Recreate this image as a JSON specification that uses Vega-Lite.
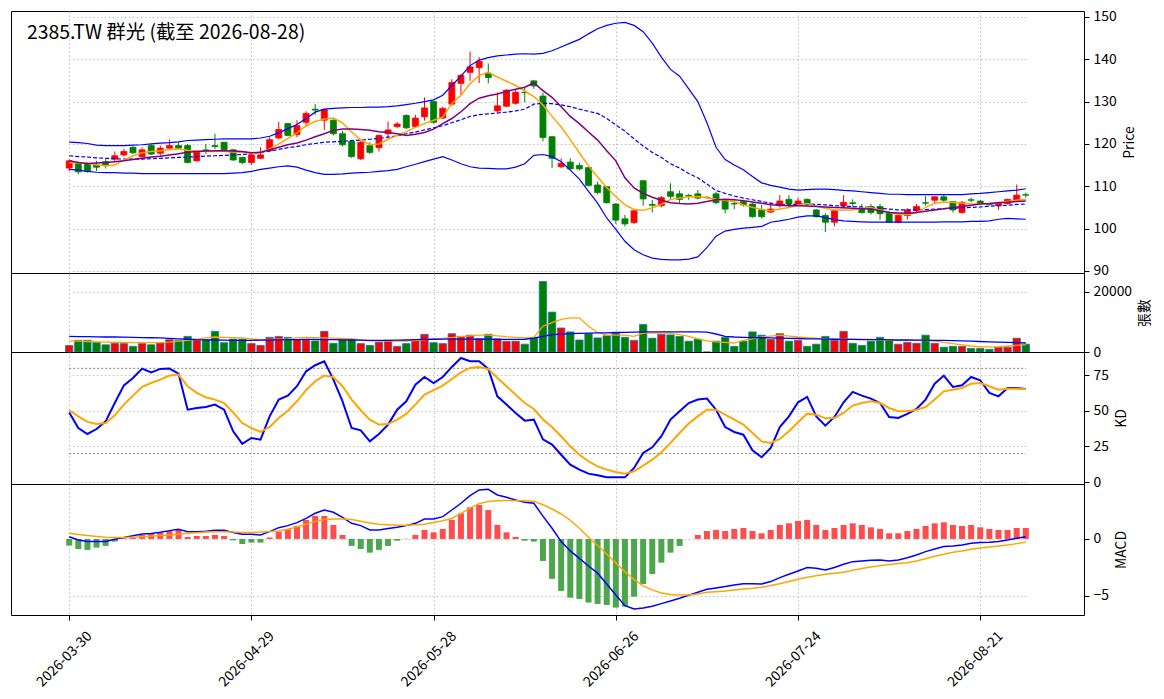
{
  "$schema": "https://vega.github.io/schema/vega-lite/v6.json",
  "padding": {"left": 10, "top": 9, "right": 2, "bottom": 2},
  "background": "white",
  "spacing": 0,
  "bounds": "flush",
  "data": {"values": [
{"d":"2026-03-30","o":114.3,"h":116.4,"l":113.6,"c":116.0,"v":2200,"ma5":115.6,"ma10":116,"mid":117.2,"up":120.4,"lo":114,"vma5":3700,"vma20":5200,"K":49,"D":50.5,"dif":0.2,"dea":0.5,"hist":-0.58},
{"d":"2026-03-31","o":115.4,"h":115.8,"l":112.8,"c":113.4,"v":3900,"ma5":115.5,"ma10":115.6,"mid":117,"up":120.3,"lo":113.8,"vma5":3600,"vma20":5150,"K":38,"D":46.2,"dif":-0.09,"dea":0.4,"hist":-0.88},
{"d":"2026-04-01","o":115.2,"h":115.6,"l":113.2,"c":113.6,"v":3900,"ma5":115.4,"ma10":115.4,"mid":116.9,"up":120.1,"lo":113.5,"vma5":3500,"vma20":5100,"K":33.8,"D":42.3,"dif":-0.23,"dea":0.3,"hist":-0.96},
{"d":"2026-04-02","o":115.0,"h":116.0,"l":113.6,"c":114.5,"v":3200,"ma5":115.1,"ma10":115.5,"mid":116.7,"up":119.7,"lo":113.3,"vma5":3400,"vma20":5050,"K":37.3,"D":40.8,"dif":-0.23,"dea":0.22,"hist":-0.76},
{"d":"2026-04-07","o":115.8,"h":116.4,"l":114.2,"c":115.0,"v":2400,"ma5":114.8,"ma10":115.6,"mid":116.6,"up":119.6,"lo":113.2,"vma5":3300,"vma20":5000,"K":42.7,"D":41.5,"dif":-0.23,"dea":0.15,"hist":-0.61},
{"d":"2026-04-08","o":116.4,"h":118.2,"l":115.8,"c":117.2,"v":2900,"ma5":115,"ma10":115.8,"mid":116.5,"up":119.6,"lo":113.2,"vma5":3250,"vma20":5000,"K":55.6,"D":46.9,"dif":-0.03,"dea":0.12,"hist":-0.23},
{"d":"2026-04-09","o":117.4,"h":118.8,"l":117.0,"c":118.2,"v":2800,"ma5":116.2,"ma10":116,"mid":116.4,"up":119.6,"lo":113.1,"vma5":3200,"vma20":4950,"K":68,"D":54.5,"dif":0.12,"dea":0.13,"hist":0.06},
{"d":"2026-04-10","o":119.2,"h":119.4,"l":117.6,"c":117.9,"v":1900,"ma5":117.2,"ma10":116.3,"mid":116.4,"up":119.7,"lo":113.1,"vma5":3150,"vma20":4900,"K":73.2,"D":60.8,"dif":0.29,"dea":0.16,"hist":0.1},
{"d":"2026-04-13","o":117.0,"h":119.2,"l":116.4,"c":118.6,"v":2800,"ma5":117.9,"ma10":116.6,"mid":116.4,"up":119.8,"lo":113,"vma5":3100,"vma20":4800,"K":79.8,"D":66.9,"dif":0.44,"dea":0.2,"hist":0.35},
{"d":"2026-04-14","o":119.6,"h":120.0,"l":117.4,"c":117.6,"v":2400,"ma5":118.2,"ma10":116.9,"mid":116.5,"up":120,"lo":113,"vma5":3100,"vma20":4750,"K":77.2,"D":69.7,"dif":0.47,"dea":0.25,"hist":0.44},
{"d":"2026-04-15","o":117.8,"h":119.6,"l":117.2,"c":119.0,"v":3000,"ma5":118.4,"ma10":117.1,"mid":116.6,"up":120.2,"lo":113,"vma5":3100,"vma20":4700,"K":79.6,"D":72.1,"dif":0.58,"dea":0.3,"hist":0.56},
{"d":"2026-04-16","o":119.0,"h":121.0,"l":118.6,"c":119.6,"v":4100,"ma5":118.7,"ma10":117.4,"mid":116.7,"up":120.3,"lo":113,"vma5":3300,"vma20":4550,"K":79.8,"D":74.9,"dif":0.73,"dea":0.35,"hist":0.7},
{"d":"2026-04-17","o":119.6,"h":120.4,"l":118.8,"c":119.0,"v":3900,"ma5":118.8,"ma10":117.7,"mid":116.8,"up":120.5,"lo":113,"vma5":3600,"vma20":4400,"K":76.3,"D":75.6,"dif":0.85,"dea":0.42,"hist":0.79},
{"d":"2026-04-20","o":119.6,"h":120.0,"l":115.4,"c":115.6,"v":5200,"ma5":118.5,"ma10":118,"mid":116.9,"up":120.8,"lo":113,"vma5":3900,"vma20":4250,"K":50.9,"D":67.4,"dif":0.64,"dea":0.5,"hist":0.18},
{"d":"2026-04-21","o":116.0,"h":118.2,"l":115.8,"c":118.0,"v":3900,"ma5":118.3,"ma10":118.2,"mid":117,"up":120.9,"lo":113,"vma5":4300,"vma20":4100,"K":52.1,"D":62.7,"dif":0.64,"dea":0.55,"hist":0.26},
{"d":"2026-04-22","o":118.6,"h":120.0,"l":117.6,"c":118.4,"v":4100,"ma5":118.2,"ma10":118.3,"mid":117.1,"up":121,"lo":113,"vma5":4700,"vma20":4050,"K":52.8,"D":59.6,"dif":0.67,"dea":0.6,"hist":0.26},
{"d":"2026-04-23","o":119.6,"h":122.4,"l":118.8,"c":119.4,"v":6900,"ma5":118.2,"ma10":118.4,"mid":117.2,"up":121.1,"lo":113,"vma5":5000,"vma20":4000,"K":54.5,"D":58,"dif":0.76,"dea":0.63,"hist":0.35},
{"d":"2026-04-24","o":120.4,"h":120.4,"l":118.4,"c":118.6,"v":3100,"ma5":118.2,"ma10":118.4,"mid":117.3,"up":121.2,"lo":113,"vma5":4900,"vma20":3950,"K":50.9,"D":55.6,"dif":0.76,"dea":0.64,"hist":0.26},
{"d":"2026-04-27","o":118.6,"h":118.8,"l":116.0,"c":116.2,"v":4300,"ma5":118.1,"ma10":118.3,"mid":117.4,"up":121.2,"lo":113.1,"vma5":4800,"vma20":3900,"K":35.7,"D":49,"dif":0.56,"dea":0.6,"hist":-0.12},
{"d":"2026-04-28","o":116.8,"h":117.0,"l":115.2,"c":115.6,"v":4300,"ma5":118,"ma10":118.2,"mid":117.5,"up":121.2,"lo":113.2,"vma5":4700,"vma20":3900,"K":26.8,"D":41.5,"dif":0.41,"dea":0.57,"hist":-0.44},
{"d":"2026-04-29","o":115.6,"h":117.6,"l":115.0,"c":117.4,"v":2800,"ma5":117.8,"ma10":117.9,"mid":117.7,"up":121.2,"lo":113.5,"vma5":4400,"vma20":3900,"K":31,"D":38,"dif":0.41,"dea":0.56,"hist":-0.32},
{"d":"2026-04-30","o":116.6,"h":119.2,"l":116.4,"c":117.4,"v":2200,"ma5":118,"ma10":118,"mid":118,"up":121.4,"lo":114,"vma5":4100,"vma20":3950,"K":29.8,"D":35.2,"dif":0.35,"dea":0.6,"hist":-0.32},
{"d":"2026-05-04","o":118.4,"h":121.6,"l":118.2,"c":121.0,"v":4900,"ma5":118.8,"ma10":118.6,"mid":118.3,"up":121.8,"lo":114.3,"vma5":4200,"vma20":4000,"K":46.2,"D":38.7,"dif":0.64,"dea":0.66,"hist":0.12},
{"d":"2026-05-05","o":121.4,"h":125.2,"l":121.0,"c":123.4,"v":5200,"ma5":120,"ma10":119.2,"mid":118.7,"up":122.6,"lo":114.6,"vma5":4300,"vma20":4050,"K":58,"D":45.1,"dif":0.99,"dea":0.7,"hist":0.64},
{"d":"2026-05-06","o":124.8,"h":125.0,"l":121.8,"c":122.0,"v":4900,"ma5":121.3,"ma10":119.8,"mid":119.1,"up":123.6,"lo":114.8,"vma5":4400,"vma20":4100,"K":60.8,"D":50.2,"dif":1.17,"dea":0.85,"hist":0.88},
{"d":"2026-05-07","o":122.2,"h":125.6,"l":121.6,"c":124.3,"v":4100,"ma5":122.6,"ma10":120.2,"mid":119.4,"up":124.6,"lo":114.5,"vma5":4700,"vma20":4150,"K":67.4,"D":56.8,"dif":1.43,"dea":1.05,"hist":1.14},
{"d":"2026-05-08","o":125.1,"h":127.7,"l":124.1,"c":127.2,"v":4100,"ma5":124.3,"ma10":120.9,"mid":119.8,"up":126,"lo":113.8,"vma5":4900,"vma20":4200,"K":77.9,"D":64.6,"dif":1.81,"dea":1.3,"hist":1.67},
{"d":"2026-05-11","o":128.2,"h":129.4,"l":126.9,"c":128.0,"v":3700,"ma5":125.3,"ma10":121.7,"mid":120.1,"up":127.5,"lo":113.2,"vma5":4800,"vma20":4200,"K":82.2,"D":70.9,"dif":2.25,"dea":1.55,"hist":2.02},
{"d":"2026-05-12","o":125.6,"h":128.4,"l":123.3,"c":128.1,"v":6900,"ma5":125.9,"ma10":122.4,"mid":120.4,"up":128.2,"lo":112.8,"vma5":4700,"vma20":4150,"K":85,"D":74.9,"dif":2.54,"dea":1.7,"hist":2.02},
{"d":"2026-05-13","o":125.6,"h":125.8,"l":122.0,"c":122.4,"v":2900,"ma5":126.1,"ma10":123.2,"mid":120.5,"up":128.4,"lo":112.8,"vma5":4600,"vma20":4100,"K":72.1,"D":73.7,"dif":2.34,"dea":1.75,"hist":1.23},
{"d":"2026-05-14","o":122.4,"h":123.1,"l":119.4,"c":119.8,"v":4100,"ma5":125,"ma10":123.5,"mid":120.6,"up":128.5,"lo":112.9,"vma5":4500,"vma20":4050,"K":56.8,"D":67.4,"dif":1.9,"dea":1.75,"hist":0.35},
{"d":"2026-05-15","o":120.6,"h":120.8,"l":116.7,"c":117.0,"v":4300,"ma5":122.8,"ma10":123.5,"mid":120.8,"up":128.6,"lo":113.1,"vma5":4400,"vma20":4000,"K":38,"D":58,"dif":1.37,"dea":1.7,"hist":-0.61},
{"d":"2026-05-18","o":116.5,"h":120.8,"l":116.2,"c":120.4,"v":2800,"ma5":121,"ma10":123.4,"mid":120.9,"up":128.6,"lo":113.2,"vma5":4000,"vma20":3950,"K":36.4,"D":50.5,"dif":1.17,"dea":1.55,"hist":-0.88},
{"d":"2026-05-19","o":119.6,"h":120.4,"l":117.6,"c":118.0,"v":2200,"ma5":119.8,"ma10":123.2,"mid":121.1,"up":128.7,"lo":113.3,"vma5":3700,"vma20":3900,"K":28.6,"D":43.9,"dif":0.79,"dea":1.4,"hist":-1.2},
{"d":"2026-05-20","o":119.1,"h":122.2,"l":118.2,"c":122.0,"v":3300,"ma5":120,"ma10":122.9,"mid":121.3,"up":128.7,"lo":113.5,"vma5":3650,"vma20":3900,"K":33.8,"D":40.4,"dif":0.79,"dea":1.3,"hist":-0.96},
{"d":"2026-05-21","o":122.4,"h":125.3,"l":121.4,"c":123.3,"v":3900,"ma5":121.1,"ma10":122.7,"mid":121.6,"up":128.8,"lo":113.7,"vma5":3600,"vma20":3900,"K":40.4,"D":40.8,"dif":0.91,"dea":1.25,"hist":-0.61},
{"d":"2026-05-22","o":124.1,"h":125.2,"l":123.8,"c":124.7,"v":1900,"ma5":122,"ma10":122.4,"mid":121.9,"up":129,"lo":114,"vma5":3600,"vma20":3950,"K":50.9,"D":43.9,"dif":1.02,"dea":1.2,"hist":-0.15},
{"d":"2026-05-25","o":126.7,"h":127.0,"l":123.5,"c":123.8,"v":2800,"ma5":122.9,"ma10":122,"mid":122.4,"up":129.3,"lo":114.6,"vma5":3600,"vma20":4000,"K":56.8,"D":47.9,"dif":1.17,"dea":1.2,"hist":0.02},
{"d":"2026-05-26","o":124.1,"h":126.9,"l":123.8,"c":126.1,"v":3900,"ma5":123.9,"ma10":122.3,"mid":122.8,"up":129.6,"lo":115.2,"vma5":3800,"vma20":4100,"K":68.5,"D":54.5,"dif":1.37,"dea":1.25,"hist":0.35},
{"d":"2026-05-27","o":126.4,"h":131.0,"l":125.5,"c":128.5,"v":5900,"ma5":124.8,"ma10":122.7,"mid":123.3,"up":130,"lo":115.8,"vma5":4100,"vma20":4200,"K":73.9,"D":61.5,"dif":1.75,"dea":1.3,"hist":0.79},
{"d":"2026-05-28","o":130.0,"h":130.2,"l":124.8,"c":125.1,"v":3100,"ma5":125.6,"ma10":123.5,"mid":123.8,"up":130.4,"lo":116.4,"vma5":4300,"vma20":4250,"K":69.7,"D":64.6,"dif":1.75,"dea":1.45,"hist":0.58},
{"d":"2026-05-29","o":126.1,"h":128.8,"l":125.9,"c":128.4,"v":2800,"ma5":126.3,"ma10":124.8,"mid":124.3,"up":131.5,"lo":117,"vma5":4500,"vma20":4300,"K":73.9,"D":67.8,"dif":1.96,"dea":1.6,"hist":0.88},
{"d":"2026-06-01","o":129.4,"h":135.3,"l":129.0,"c":134.5,"v":6100,"ma5":129.5,"ma10":126,"mid":125,"up":133.8,"lo":116.2,"vma5":4800,"vma20":4300,"K":81,"D":72.5,"dif":2.54,"dea":1.8,"hist":1.67},
{"d":"2026-06-02","o":134.3,"h":136.5,"l":131.6,"c":136.2,"v":5200,"ma5":131.5,"ma10":127.6,"mid":125.7,"up":136,"lo":115.3,"vma5":5100,"vma20":4300,"K":87.3,"D":77.2,"dif":3.13,"dea":2.25,"hist":2.25},
{"d":"2026-06-03","o":136.9,"h":141.8,"l":134.9,"c":138.2,"v":5600,"ma5":134.2,"ma10":129.5,"mid":126.5,"up":138.5,"lo":114.6,"vma5":5400,"vma20":4300,"K":85,"D":80.3,"dif":3.8,"dea":2.7,"hist":2.78},
{"d":"2026-06-04","o":138.0,"h":140.5,"l":134.4,"c":139.5,"v":4400,"ma5":136.2,"ma10":130.8,"mid":126.9,"up":139.8,"lo":114.3,"vma5":5600,"vma20":4250,"K":85,"D":81,"dif":4.3,"dea":3.1,"hist":2.98},
{"d":"2026-06-05","o":136.7,"h":139.0,"l":134.3,"c":135.7,"v":5900,"ma5":136.9,"ma10":131.4,"mid":127.1,"up":140.4,"lo":114.2,"vma5":5600,"vma20":4250,"K":79.6,"D":79.6,"dif":4.36,"dea":3.28,"hist":2.54},
{"d":"2026-06-08","o":127.8,"h":132.2,"l":127.2,"c":129.0,"v":4400,"ma5":135.8,"ma10":131.8,"mid":127.3,"up":140.8,"lo":114.1,"vma5":5400,"vma20":4200,"K":60.3,"D":73.2,"dif":3.86,"dea":3.35,"hist":1.23},
{"d":"2026-06-09","o":128.9,"h":132.9,"l":128.7,"c":132.7,"v":3600,"ma5":134.8,"ma10":132.4,"mid":127.5,"up":141,"lo":114.1,"vma5":5100,"vma20":4200,"K":54.5,"D":67.4,"dif":3.65,"dea":3.37,"hist":0.58},
{"d":"2026-06-10","o":129.6,"h":132.9,"l":129.3,"c":132.2,"v":3600,"ma5":133.8,"ma10":132.9,"mid":127.8,"up":141.2,"lo":114.5,"vma5":4900,"vma20":4200,"K":48.6,"D":61.5,"dif":3.42,"dea":3.36,"hist":0.18},
{"d":"2026-06-11","o":132.2,"h":133.3,"l":129.8,"c":132.1,"v":2600,"ma5":132.5,"ma10":133.4,"mid":128.2,"up":141.3,"lo":115.3,"vma5":4700,"vma20":4250,"K":43.2,"D":55.6,"dif":3.22,"dea":3.35,"hist":-0.15},
{"d":"2026-06-12","o":134.9,"h":135.0,"l":133.0,"c":133.7,"v":4900,"ma5":131.2,"ma10":134.4,"mid":129.4,"up":141.2,"lo":117.3,"vma5":4900,"vma20":4600,"K":43.9,"D":51.4,"dif":3.13,"dea":3.3,"hist":-0.23},
{"d":"2026-06-15","o":131.3,"h":132.1,"l":120.6,"c":121.5,"v":23500,"ma5":129.2,"ma10":132.6,"mid":129.6,"up":141.4,"lo":117.5,"vma5":8600,"vma20":5200,"K":30,"D":44,"dif":2.0,"dea":3.0,"hist":-1.93},
{"d":"2026-06-16","o":121.7,"h":121.9,"l":114.3,"c":116.6,"v":13300,"ma5":126.5,"ma10":131,"mid":129.5,"up":142,"lo":117,"vma5":9800,"vma20":5800,"K":26.3,"D":38.7,"dif":0.94,"dea":2.63,"hist":-3.5},
{"d":"2026-06-17","o":114.6,"h":116.6,"l":114.3,"c":115.4,"v":8000,"ma5":124,"ma10":128.8,"mid":129.2,"up":142.9,"lo":115.8,"vma5":10900,"vma20":5950,"K":19.2,"D":32.2,"dif":-0.23,"dea":2.19,"hist":-4.56},
{"d":"2026-06-18","o":115.7,"h":116.6,"l":113.9,"c":114.1,"v":6700,"ma5":121,"ma10":126.5,"mid":128.8,"up":143.8,"lo":113.8,"vma5":11400,"vma20":6100,"K":12.2,"D":25.1,"dif":-1.05,"dea":1.64,"hist":-5.15},
{"d":"2026-06-22","o":114.9,"h":115.6,"l":113.7,"c":114.1,"v":4000,"ma5":117.9,"ma10":124.8,"mid":128.2,"up":144.7,"lo":111.7,"vma5":11400,"vma20":6200,"K":8.7,"D":19.2,"dif":-1.7,"dea":0.94,"hist":-5.26},
{"d":"2026-06-23","o":114.4,"h":114.6,"l":110.0,"c":110.2,"v":6100,"ma5":114.8,"ma10":122.8,"mid":127.7,"up":146,"lo":108.8,"vma5":8600,"vma20":6300,"K":5.9,"D":14.6,"dif":-2.37,"dea":0.15,"hist":-5.58},
{"d":"2026-06-24","o":110.3,"h":111.1,"l":108.1,"c":108.5,"v":4700,"ma5":112.2,"ma10":120.9,"mid":127.2,"up":147.2,"lo":106,"vma5":6500,"vma20":6350,"K":4.7,"D":11,"dif":-3.0,"dea":-0.58,"hist":-5.7},
{"d":"2026-06-25","o":109.9,"h":110.1,"l":105.9,"c":106.1,"v":5400,"ma5":109.7,"ma10":118.4,"mid":126,"up":148,"lo":102.5,"vma5":5600,"vma20":6400,"K":3.3,"D":8.7,"dif":-3.95,"dea":-1.32,"hist":-5.79},
{"d":"2026-06-26","o":105.8,"h":106.0,"l":101.1,"c":102.0,"v":6300,"ma5":107.5,"ma10":116,"mid":124.5,"up":148.5,"lo":99.8,"vma5":5600,"vma20":6500,"K":3.3,"D":7,"dif":-4.91,"dea":-2.1,"hist":-6.02},
{"d":"2026-06-29","o":102.3,"h":103.2,"l":100.5,"c":101.1,"v":4900,"ma5":105.6,"ma10":112,"mid":123,"up":148.7,"lo":97,"vma5":5600,"vma20":6550,"K":3.3,"D":5.9,"dif":-5.85,"dea":-2.87,"hist":-5.94},
{"d":"2026-06-30","o":101.4,"h":104.4,"l":101.1,"c":104.2,"v":3900,"ma5":104.5,"ma10":109.6,"mid":121.2,"up":148,"lo":95,"vma5":5200,"vma20":6650,"K":9.9,"D":7.5,"dif":-6.14,"dea":-3.54,"hist":-5.06},
{"d":"2026-07-01","o":111.3,"h":111.3,"l":105.4,"c":107.0,"v":9200,"ma5":104.3,"ma10":108.3,"mid":119.5,"up":146.5,"lo":93.8,"vma5":6300,"vma20":6700,"K":20.4,"D":11.5,"dif":-6.05,"dea":-4.12,"hist":-3.95},
{"d":"2026-07-02","o":105.7,"h":106.8,"l":103.8,"c":105.5,"v":4600,"ma5":104.9,"ma10":107.4,"mid":118,"up":143.8,"lo":93,"vma5":6300,"vma20":6700,"K":24.4,"D":15.7,"dif":-5.9,"dea":-4.47,"hist":-3.07},
{"d":"2026-07-03","o":105.4,"h":107.7,"l":105.0,"c":107.3,"v":5900,"ma5":105.7,"ma10":106.7,"mid":116.8,"up":140.5,"lo":92.7,"vma5":6300,"vma20":6700,"K":32.2,"D":20.9,"dif":-5.67,"dea":-4.74,"hist":-2.08},
{"d":"2026-07-06","o":108.7,"h":110.7,"l":106.8,"c":107.6,"v":5700,"ma5":106.9,"ma10":106.1,"mid":115.3,"up":137.6,"lo":92.6,"vma5":6300,"vma20":6700,"K":43.9,"D":27.5,"dif":-5.44,"dea":-4.88,"hist":-1.2},
{"d":"2026-07-07","o":108.2,"h":109.0,"l":106.0,"c":106.9,"v":5200,"ma5":107.2,"ma10":105.9,"mid":114.3,"up":136,"lo":92.6,"vma5":5800,"vma20":6700,"K":49.8,"D":34.5,"dif":-5.2,"dea":-4.91,"hist":-0.61},
{"d":"2026-07-08","o":107.8,"h":108.2,"l":106.8,"c":107.7,"v":3600,"ma5":107.5,"ma10":105.8,"mid":113,"up":133,"lo":92.8,"vma5":5200,"vma20":6700,"K":55.6,"D":41.1,"dif":-4.94,"dea":-4.91,"hist":0},
{"d":"2026-07-09","o":108.2,"h":109.1,"l":106.9,"c":107.2,"v":4300,"ma5":107.6,"ma10":106,"mid":112,"up":130,"lo":93.3,"vma5":4400,"vma20":6700,"K":58,"D":46.2,"dif":-4.68,"dea":-4.82,"hist":0.35},
{"d":"2026-07-10","o":107.4,"h":107.6,"l":107.1,"c":107.3,"v":0,"ma5":107.3,"ma10":106.4,"mid":110.5,"up":125,"lo":95.5,"vma5":3700,"vma20":6600,"K":58.7,"D":50.9,"dif":-4.42,"dea":-4.68,"hist":0.7},
{"d":"2026-07-13","o":108.2,"h":108.7,"l":105.8,"c":106.1,"v":3600,"ma5":106.9,"ma10":106.8,"mid":109,"up":119.2,"lo":98.2,"vma5":3400,"vma20":6000,"K":50.9,"D":50.9,"dif":-4.3,"dea":-4.62,"hist":0.79},
{"d":"2026-07-14","o":106.6,"h":106.8,"l":103.6,"c":104.6,"v":4900,"ma5":106.6,"ma10":106.9,"mid":108.3,"up":116.3,"lo":99.4,"vma5":3200,"vma20":5200,"K":38.7,"D":47.4,"dif":-4.18,"dea":-4.56,"hist":0.7},
{"d":"2026-07-15","o":105.9,"h":106.6,"l":104.6,"c":105.8,"v":1900,"ma5":106.4,"ma10":106.8,"mid":107.7,"up":115,"lo":99.8,"vma5":3000,"vma20":5000,"K":35.2,"D":43.9,"dif":-4.04,"dea":-4.47,"hist":0.88},
{"d":"2026-07-16","o":106.4,"h":106.8,"l":105.2,"c":105.6,"v":3600,"ma5":105.6,"ma10":106.6,"mid":107.2,"up":113.9,"lo":100.1,"vma5":3900,"vma20":4900,"K":33.3,"D":40.4,"dif":-3.92,"dea":-4.39,"hist":0.96},
{"d":"2026-07-17","o":105.8,"h":106.0,"l":102.6,"c":102.8,"v":6700,"ma5":105,"ma10":106.3,"mid":106.8,"up":112.3,"lo":100.3,"vma5":4400,"vma20":4800,"K":22.3,"D":34.5,"dif":-3.92,"dea":-4.33,"hist":0.7},
{"d":"2026-07-20","o":104.4,"h":105.6,"l":102.4,"c":102.8,"v":5600,"ma5":104.5,"ma10":106,"mid":106.4,"up":110.8,"lo":100.5,"vma5":5000,"vma20":4750,"K":17.4,"D":28.6,"dif":-3.95,"dea":-4.24,"hist":0.5},
{"d":"2026-07-21","o":103.9,"h":106.1,"l":103.6,"c":104.6,"v":4200,"ma5":104.2,"ma10":105.6,"mid":106,"up":110.2,"lo":101.5,"vma5":5300,"vma20":4700,"K":23.9,"D":27.5,"dif":-3.74,"dea":-4.09,"hist":0.79},
{"d":"2026-07-22","o":105.4,"h":107.9,"l":105.0,"c":106.5,"v":6100,"ma5":104.6,"ma10":105.5,"mid":105.6,"up":109.8,"lo":101.8,"vma5":5600,"vma20":4600,"K":38.7,"D":30.3,"dif":-3.39,"dea":-3.92,"hist":1.23},
{"d":"2026-07-23","o":106.9,"h":107.9,"l":105.0,"c":105.8,"v":3600,"ma5":105,"ma10":105.4,"mid":105.6,"up":109.3,"lo":102.2,"vma5":5300,"vma20":4550,"K":46.2,"D":35.7,"dif":-3.1,"dea":-3.74,"hist":1.37},
{"d":"2026-07-24","o":105.8,"h":107.3,"l":105.4,"c":106.5,"v":3900,"ma5":105.5,"ma10":105.4,"mid":105.7,"up":109.1,"lo":102.7,"vma5":5000,"vma20":4500,"K":56.1,"D":42,"dif":-2.81,"dea":-3.54,"hist":1.58},
{"d":"2026-07-27","o":106.9,"h":107.1,"l":105.2,"c":105.8,"v":1900,"ma5":105.9,"ma10":105.3,"mid":105.8,"up":109.2,"lo":103,"vma5":4800,"vma20":4400,"K":59.9,"D":48.1,"dif":-2.51,"dea":-3.36,"hist":1.67},
{"d":"2026-07-28","o":104.4,"h":104.6,"l":102.6,"c":102.8,"v":2600,"ma5":105.3,"ma10":105.2,"mid":105.7,"up":109.3,"lo":103,"vma5":4600,"vma20":4350,"K":46.2,"D":47.4,"dif":-2.57,"dea":-3.22,"hist":1.23},
{"d":"2026-07-29","o":103.1,"h":103.6,"l":99.2,"c":101.5,"v":5200,"ma5":104.8,"ma10":105.1,"mid":105.6,"up":109.3,"lo":102.6,"vma5":4400,"vma20":4300,"K":39.7,"D":44.8,"dif":-2.72,"dea":-3.1,"hist":0.79},
{"d":"2026-07-30","o":101.5,"h":104.4,"l":100.5,"c":104.2,"v":3900,"ma5":104.4,"ma10":105,"mid":105.4,"up":109.2,"lo":102.1,"vma5":4300,"vma20":4250,"K":45.8,"D":45.1,"dif":-2.51,"dea":-3.01,"hist":0.96},
{"d":"2026-07-31","o":105.4,"h":107.9,"l":104.8,"c":106.2,"v":6900,"ma5":104.4,"ma10":104.9,"mid":105.3,"up":109,"lo":101.8,"vma5":4300,"vma20":4200,"K":56.1,"D":48.6,"dif":-2.22,"dea":-2.92,"hist":1.23},
{"d":"2026-08-03","o":106.1,"h":106.9,"l":105.2,"c":105.9,"v":2900,"ma5":104.4,"ma10":104.8,"mid":105.2,"up":108.9,"lo":101.7,"vma5":4300,"vma20":4200,"K":63.4,"D":53.8,"dif":-1.99,"dea":-2.75,"hist":1.37},
{"d":"2026-08-04","o":104.8,"h":105.8,"l":103.5,"c":103.8,"v":2200,"ma5":104.8,"ma10":104.7,"mid":105.1,"up":108.7,"lo":101.6,"vma5":4300,"vma20":4150,"K":60.8,"D":55.6,"dif":-1.93,"dea":-2.6,"hist":1.23},
{"d":"2026-08-05","o":105.2,"h":105.8,"l":103.3,"c":103.8,"v":3600,"ma5":105,"ma10":104.6,"mid":105,"up":108.5,"lo":101.5,"vma5":4200,"vma20":4100,"K":58.7,"D":56.8,"dif":-1.87,"dea":-2.46,"hist":1.02},
{"d":"2026-08-06","o":105.2,"h":105.8,"l":102.1,"c":103.5,"v":4900,"ma5":104.4,"ma10":104.2,"mid":104.8,"up":108.3,"lo":101.5,"vma5":4000,"vma20":4100,"K":55.6,"D":55.6,"dif":-1.84,"dea":-2.34,"hist":0.88},
{"d":"2026-08-07","o":103.6,"h":104.2,"l":101.3,"c":101.5,"v":4100,"ma5":103.8,"ma10":103.8,"mid":104.6,"up":108.1,"lo":101.5,"vma5":3900,"vma20":4050,"K":45.8,"D":52.1,"dif":-1.93,"dea":-2.25,"hist":0.5},
{"d":"2026-08-10","o":101.5,"h":103.3,"l":101.2,"c":103.1,"v":2600,"ma5":103.4,"ma10":103.7,"mid":104.4,"up":108.1,"lo":101.5,"vma5":3900,"vma20":4000,"K":45.1,"D":49.8,"dif":-1.84,"dea":-2.16,"hist":0.5},
{"d":"2026-08-11","o":103.1,"h":104.8,"l":102.1,"c":104.4,"v":3200,"ma5":103.3,"ma10":103.6,"mid":104.4,"up":108,"lo":101.5,"vma5":3900,"vma20":4000,"K":47.9,"D":49.8,"dif":-1.64,"dea":-2.08,"hist":0.7},
{"d":"2026-08-12","o":104.2,"h":105.8,"l":103.8,"c":105.2,"v":2900,"ma5":103.7,"ma10":103.8,"mid":104.4,"up":108,"lo":101.5,"vma5":3900,"vma20":3950,"K":51.4,"D":50.9,"dif":-1.4,"dea":-1.93,"hist":0.88},
{"d":"2026-08-13","o":106.1,"h":107.7,"l":105.4,"c":106.0,"v":5600,"ma5":105,"ma10":104.1,"mid":104.5,"up":108,"lo":101.5,"vma5":3900,"vma20":3950,"K":58,"D":52.8,"dif":-1.11,"dea":-1.73,"hist":1.14},
{"d":"2026-08-14","o":106.7,"h":107.6,"l":105.9,"c":107.5,"v":2900,"ma5":106,"ma10":104.4,"mid":104.6,"up":108,"lo":101.5,"vma5":3600,"vma20":3900,"K":69.2,"D":58,"dif":-0.88,"dea":-1.52,"hist":1.37},
{"d":"2026-08-17","o":107.5,"h":108.1,"l":106.2,"c":106.7,"v":1600,"ma5":106.2,"ma10":104.7,"mid":104.7,"up":108,"lo":101.6,"vma5":3200,"vma20":3900,"K":74.9,"D":63.8,"dif":-0.67,"dea":-1.35,"hist":1.46},
{"d":"2026-08-18","o":106.4,"h":106.5,"l":103.8,"c":104.4,"v":1900,"ma5":106.2,"ma10":105,"mid":104.8,"up":108,"lo":101.6,"vma5":2800,"vma20":3800,"K":66.9,"D":65,"dif":-0.61,"dea":-1.17,"hist":1.23},
{"d":"2026-08-19","o":103.8,"h":106.5,"l":103.5,"c":106.2,"v":1900,"ma5":106,"ma10":105.2,"mid":104.9,"up":108,"lo":101.6,"vma5":2400,"vma20":3700,"K":68.1,"D":66.2,"dif":-0.53,"dea":-1.05,"hist":1.14},
{"d":"2026-08-20","o":106.8,"h":107.3,"l":106.2,"c":106.7,"v":1200,"ma5":105.8,"ma10":105.5,"mid":105,"up":108.2,"lo":101.7,"vma5":2000,"vma20":3600,"K":73.9,"D":69.2,"dif":-0.38,"dea":-0.91,"hist":1.23},
{"d":"2026-08-21","o":106.5,"h":106.7,"l":105.6,"c":105.9,"v":1200,"ma5":105.8,"ma10":105.8,"mid":105.1,"up":108.3,"lo":101.7,"vma5":1700,"vma20":3500,"K":71.6,"D":69.7,"dif":-0.32,"dea":-0.79,"hist":1.02},
{"d":"2026-08-24","o":105.8,"h":106.0,"l":105.4,"c":105.7,"v":900,"ma5":105.9,"ma10":105.9,"mid":105.3,"up":108.5,"lo":101.8,"vma5":1700,"vma20":3400,"K":62.7,"D":67.4,"dif":-0.29,"dea":-0.7,"hist":0.88},
{"d":"2026-08-25","o":105.4,"h":106.3,"l":104.4,"c":106.2,"v":1600,"ma5":106.1,"ma10":106.1,"mid":105.4,"up":108.7,"lo":102.2,"vma5":1700,"vma20":3300,"K":60.3,"D":65,"dif":-0.23,"dea":-0.61,"hist":0.79},
{"d":"2026-08-26","o":105.9,"h":107.0,"l":105.7,"c":106.9,"v":1600,"ma5":106.4,"ma10":106.2,"mid":105.5,"up":108.9,"lo":102.4,"vma5":2000,"vma20":3200,"K":66.2,"D":65.7,"dif":-0.09,"dea":-0.53,"hist":0.79},
{"d":"2026-08-27","o":106.7,"h":110.4,"l":106.4,"c":107.9,"v":4600,"ma5":106.7,"ma10":106.4,"mid":105.7,"up":109.1,"lo":102.3,"vma5":2200,"vma20":3100,"K":66.2,"D":65.7,"dif":0.06,"dea":-0.41,"hist":0.96},
{"d":"2026-08-28","o":108.0,"h":108.5,"l":107.3,"c":107.9,"v":2600,"ma5":106.9,"ma10":106.5,"mid":105.8,"up":109.4,"lo":102.2,"vma5":2400,"vma20":3000,"K":65.5,"D":65.5,"dif":0.2,"dea":-0.29,"hist":0.96}
  ]},
  "vconcat": [
    {
      "width": 1073,
      "height": 262,
      "title": {"text": "2385.TW 群光 (截至 2026-08-28)", "anchor": "start", "frame": "group", "offset": -33, "dx": 16, "fontSize": 19.4, "fontWeight": "normal", "color": "black"},
      "encoding": {
        "x": {"field": "d", "type": "ordinal", "scale": {"type": "point", "padding": 0, "range": [58.2, 1014.8]},
              "axis": {"values": ["2026-03-30","2026-04-29","2026-05-28","2026-06-26","2026-07-24","2026-08-21"], "labels": false, "ticks": false, "title": null, "grid": true, "minExtent": 0, "maxExtent": 0}}
      },
      "layer": [
        {
          "mark": {"type": "rule", "strokeWidth": 1},
          "encoding": {
            "y": {"field": "l", "type": "quantitative", "scale": {"domain": [89.5, 151.4], "nice": false, "zero": false},
                  "axis": {"orient": "right", "values": [90,100,110,120,130,140,150], "title": "Price", "grid": true, "titleAngle": 270, "titleBaseline": "top"}},
            "y2": {"field": "h"},
            "color": {"condition": {"test": "datum.c >= datum.o", "value": "#ff0000"}, "value": "#008000"}
          }
        },
        {
          "mark": {"type": "bar", "width": 6, "strokeWidth": 0.8},
          "encoding": {
            "y": {"field": "o", "type": "quantitative"},
            "y2": {"field": "c"},
            "fill": {"condition": {"test": "datum.c >= datum.o", "value": "#ff0000"}, "value": "#008000"},
            "stroke": {"condition": {"test": "datum.c >= datum.o", "value": "#ff0000"}, "value": "#008000"}
          }
        },
        {"mark": {"type": "line", "color": "#0000ff", "strokeWidth": 1.2}, "encoding": {"y": {"field": "up", "type": "quantitative"}}},
        {"mark": {"type": "line", "color": "#0000ff", "strokeWidth": 1.2}, "encoding": {"y": {"field": "lo", "type": "quantitative"}}},
        {"mark": {"type": "line", "color": "#0000ff", "strokeWidth": 1.2, "strokeDash": [4, 2]}, "encoding": {"y": {"field": "mid", "type": "quantitative"}}},
        {"mark": {"type": "line", "color": "#ffa500", "strokeWidth": 1.5}, "encoding": {"y": {"field": "ma5", "type": "quantitative"}}},
        {"mark": {"type": "line", "color": "#800080", "strokeWidth": 1.5}, "encoding": {"y": {"field": "ma10", "type": "quantitative"}}}
      ]
    },
    {
      "width": 1073,
      "height": 79,
      "encoding": {
        "x": {"field": "d", "type": "ordinal", "scale": {"type": "point", "padding": 0, "range": [58.2, 1014.8]},
              "axis": {"values": ["2026-03-30","2026-04-29","2026-05-28","2026-06-26","2026-07-24","2026-08-21"], "labels": false, "ticks": false, "title": null, "grid": true, "minExtent": 0, "maxExtent": 0}}
      },
      "layer": [
        {
          "mark": {"type": "bar", "width": 7.4, "stroke": "#1f77b4", "strokeWidth": 0.8},
          "encoding": {
            "y": {"field": "v", "type": "quantitative", "scale": {"domain": [0, 26333], "nice": false},
                  "axis": {"orient": "right", "values": [0, 20000], "format": "d", "title": "張數", "grid": true, "titleAngle": 270, "titleBaseline": "top"}},
            "fill": {"condition": {"test": "datum.c >= datum.o", "value": "#ff0000"}, "value": "#008000"}
          }
        },
        {"mark": {"type": "line", "color": "#ffa500", "strokeWidth": 1.3}, "encoding": {"y": {"field": "vma5", "type": "quantitative"}}},
        {"mark": {"type": "line", "color": "#0000ff", "strokeWidth": 1.3}, "encoding": {"y": {"field": "vma20", "type": "quantitative"}}}
      ]
    },
    {
      "width": 1073,
      "height": 132,
      "encoding": {
        "x": {"field": "d", "type": "ordinal", "scale": {"type": "point", "padding": 0, "range": [58.2, 1014.8]},
              "axis": {"values": ["2026-03-30","2026-04-29","2026-05-28","2026-06-26","2026-07-24","2026-08-21"], "labels": false, "ticks": false, "title": null, "grid": true, "minExtent": 0, "maxExtent": 0}}
      },
      "layer": [
        {
          "mark": {"type": "line", "color": "#808080", "strokeWidth": 1, "strokeDash": [2, 2]},
          "encoding": {"y": {"datum": 80, "type": "quantitative", "scale": {"domain": [-1.4, 91.5], "nice": false, "zero": false},
                  "axis": {"orient": "right", "values": [0, 25, 50, 75], "title": "KD", "grid": true, "titleAngle": 270, "titleBaseline": "top"}}}
        },
        {"mark": {"type": "line", "color": "#808080", "strokeWidth": 1, "strokeDash": [2, 2]}, "encoding": {"y": {"datum": 20, "type": "quantitative"}}},
        {"mark": {"type": "line", "color": "#0000ff", "strokeWidth": 2}, "encoding": {"y": {"field": "K", "type": "quantitative"}}},
        {"mark": {"type": "line", "color": "#ffa500", "strokeWidth": 2}, "encoding": {"y": {"field": "D", "type": "quantitative"}}}
      ]
    },
    {
      "width": 1073,
      "height": 131,
      "encoding": {
        "x": {"field": "d", "type": "ordinal", "scale": {"type": "point", "padding": 0, "range": [58.2, 1014.8]},
              "axis": {"values": ["2026-03-30","2026-04-29","2026-05-28","2026-06-26","2026-07-24","2026-08-21"], "labelAngle": -45, "labelAlign": "center", "labelBaseline": "middle", "labelPadding": 39, "labelOffset": -5, "tickSize": 5, "title": null, "grid": true}}
      },
      "layer": [
        {
          "mark": {"type": "bar", "width": 6},
          "encoding": {
            "y": {"field": "hist", "type": "quantitative", "scale": {"domain": [-6.67, 4.82], "nice": false, "zero": false},
                  "axis": {"orient": "right", "values": [-5, 0], "title": "MACD", "grid": true, "titleAngle": 270, "titleBaseline": "top"}},
            "y2": {"datum": 0},
            "fill": {"condition": {"test": "datum.hist >= 0", "value": "#ff4d4d"}, "value": "#4ca64c"}
          }
        },
        {"mark": {"type": "rule", "color": "#808080", "strokeWidth": 1.2, "strokeDash": [3, 2]}, "encoding": {"y": {"datum": 0, "type": "quantitative"}}},
        {"mark": {"type": "line", "color": "#0000ff", "strokeWidth": 1.5}, "encoding": {"y": {"field": "dif", "type": "quantitative"}}},
        {"mark": {"type": "line", "color": "#ffa500", "strokeWidth": 1.5}, "encoding": {"y": {"field": "dea", "type": "quantitative"}}}
      ]
    }
  ],
  "config": {
    "font": "Noto Sans CJK TC",
    "view": {"stroke": "black", "strokeWidth": 1},
    "axis": {
      "labelFont": "Noto Sans CJK TC", "titleFont": "Noto Sans CJK TC",
      "labelFontSize": 13.9, "titleFontSize": 13.9, "titleFontWeight": "normal",
      "labelColor": "black", "titleColor": "black", "tickColor": "black",
      "tickSize": 5, "labelPadding": 4, "titlePadding": 6,
      "domain": false,
      "gridColor": "#b0b0b0", "gridDash": [1.5, 2.5], "gridWidth": 0.8
    },
    "title": {"font": "Noto Sans CJK TC"}
  }
}
